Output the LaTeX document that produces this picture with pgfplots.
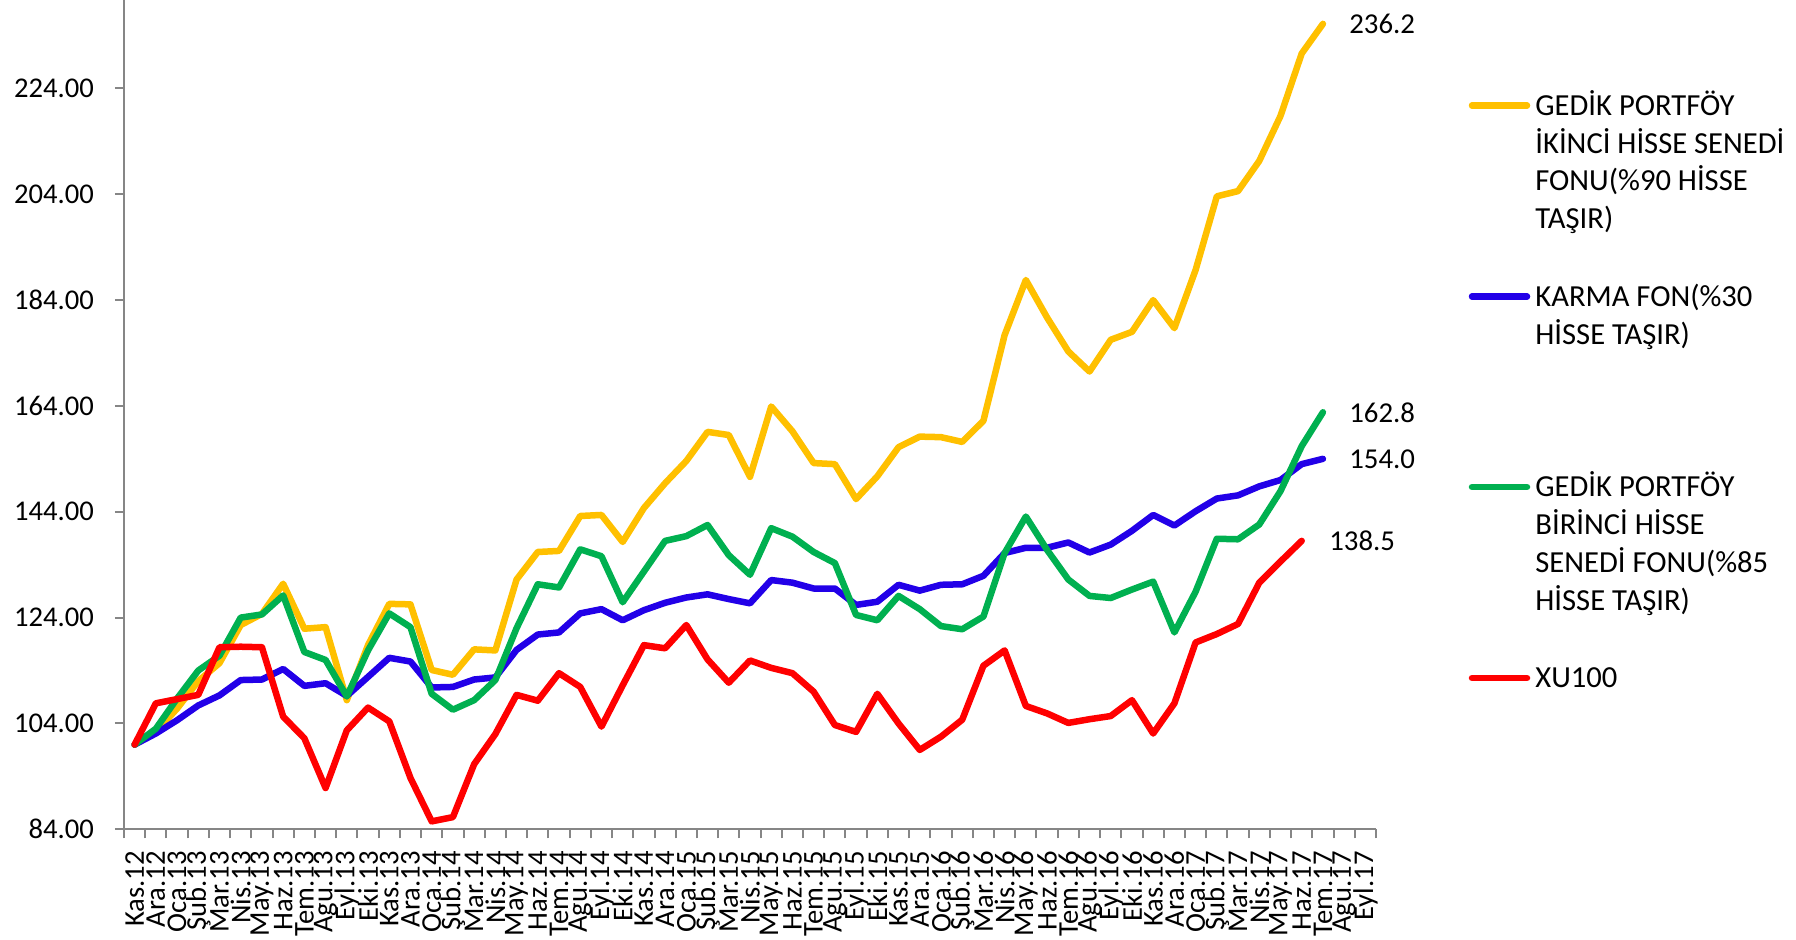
\documentclass[border=0pt]{standalone}
\usepackage{fontspec}
\setmainfont{Carlito}
\usepackage{pgfplots}
\pgfplotsset{compat=1.18}
\usepackage{pgfplotstable}
\definecolor{cY}{RGB}{255,192,0}
\definecolor{cB}{RGB}{34,0,232}
\definecolor{cG}{RGB}{0,176,80}
\definecolor{cR}{RGB}{255,0,0}
\definecolor{axgray}{RGB}{134,134,134}
\pgfplotstableread{
i Y B G R
0 100 100 100 100
1 102.4 102.1 103 107.8
2 106.8 104.6 108.7 108.6
3 112 107.4 114 109.4
4 115.4 109.3 116.8 118.4
5 122.6 112.2 124 118.5
6 124.7 112.3 124.6 118.4
7 130.4 114.3 128.2 105.3
8 121.9 111.1 117.5 101.2
9 122.2 111.6 116 91.8
10 108.4 109.2 109.1 102.7
11 118.8 112.8 117.8 107
12 126.6 116.4 124.8 104.4
13 126.5 115.7 122.2 93.7
14 114.1 110.8 109.6 85.5
15 113.2 110.9 106.6 86.3
16 118 112.3 108.4 96.3
17 117.8 112.7 112.2 102
18 131.2 117.9 122 109.4
19 136.4 120.8 130.3 108.3
20 136.6 121.2 129.7 113.5
21 143.2 124.8 136.9 110.9
22 143.4 125.6 135.6 103.4
23 138.3 123.5 126.9 111.2
24 144.7 125.4 132.7 118.8
25 149.4 126.8 138.5 118.2
26 153.6 127.8 139.4 122.6
27 159.1 128.4 141.5 116.1
28 158.5 127.5 135.8 111.7
29 150.6 126.7 132.1 115.9
30 163.9 131.1 140.9 114.5
31 159.2 130.6 139.3 113.5
32 153.2 129.5 136.4 110
33 153 129.5 134.3 103.7
34 146.4 126.4 124.5 102.4
35 150.7 127 123.5 109.6
36 156.2 130.2 128.1 104
37 158.2 129.1 125.6 99
38 158.1 130.2 122.4 101.5
39 157.2 130.3 121.8 104.7
40 161.2 131.9 124.2 114.9
41 177.4 136.2 136.2 117.8
42 187.8 137.2 143.1 107.3
43 180.7 137.2 136.8 105.9
44 174.3 138.2 131.2 104.1
45 170.5 136.3 128.1 104.8
46 176.5 137.8 127.7 105.4
47 178 140.4 129.3 108.4
48 184 143.4 130.8 102.1
49 178.7 141.4 121.2 107.8
50 189.7 144.1 128.9 119.3
51 203.6 146.5 138.9 120.9
52 204.6 147.1 138.8 122.8
53 210.3 148.8 141.6 130.6
54 218.8 150 147.9 134.6
55 230.6 153 156.4 138.5
56 236.2 154 162.8 nan
}\data
\begin{document}
\begin{tikzpicture}
\useasboundingbox (-62pt,-55.35pt) rectangle (836pt,414.65pt);
\begin{axis}[
  at={(0,0)}, anchor=south west, scale only axis,
  width=626pt, height=414.65pt,
  xmin=-0.5, xmax=58.5, ymin=84, ymax=240.71,
  clip=false,
  axis x line*=bottom, axis y line*=left,
  axis line style={draw=axgray, line width=1pt},
  tick align=outside,
  major tick length=4.5pt,
  tick style={draw=axgray, line width=1pt},
  ytick={84,104,...,224},
  yticklabel style={xshift=-7pt, /pgf/number format/.cd, fixed, fixed zerofill, precision=2},
  /pgf/number format/assume math mode=true,
  tick label style={font=\fontsize{14.3}{17}\selectfont, text=black},
  xtick={-0.5,0.5,...,58.5}, xticklabels={},
  extra x ticks={0,...,58},
  extra x tick labels={Kas.12,Ara.12,Oca.13,Şub.13,Mar.13,Nis.13,May.13,Haz.13,Tem.13,Agu.13,Eyl.13,Eki.13,Kas.13,Ara.13,Oca.14,Şub.14,Mar.14,Nis.14,May.14,Haz.14,Tem.14,Agu.14,Eyl.14,Eki.14,Kas.14,Ara.14,Oca.15,Şub.15,Mar.15,Nis.15,May.15,Haz.15,Tem.15,Agu.15,Eyl.15,Eki.15,Kas.15,Ara.15,Oca.16,Şub.16,Mar.16,Nis.16,May.16,Haz.16,Tem.16,Agu.16,Eyl.16,Eki.16,Kas.16,Ara.16,Oca.17,Şub.17,Mar.17,Nis.17,May.17,Haz.17,Tem.17,Agu.17,Eyl.17},
  extra x tick style={major tick length=0pt, xticklabel style={yshift=-7.5pt, rotate=90, anchor=east}},
  every axis plot/.append style={line width=3.25pt, line join=round, line cap=round, mark=none},
]
\addplot[cY] table[x=i,y=Y]{\data};
\addplot[cB] table[x=i,y=B]{\data};
\addplot[cG] table[x=i,y=G]{\data};
\addplot[cR] table[x=i,y=R]{\data};
\node[anchor=west, inner sep=0pt, xshift=13pt, font=\fontsize{14.4}{17}\selectfont] at (axis cs:56,236.2) {236.2};
\node[anchor=west, inner sep=0pt, xshift=13pt, font=\fontsize{14.4}{17}\selectfont] at (axis cs:56,162.8) {162.8};
\node[anchor=west, inner sep=0pt, xshift=13pt, font=\fontsize{14.4}{17}\selectfont] at (axis cs:56,154.0) {154.0};
\node[anchor=west, inner sep=0pt, xshift=13.6pt, font=\fontsize{14.4}{17}\selectfont] at (axis cs:55,138.5) {138.5};
\end{axis}
\begin{scope}[every node/.style={anchor=base west, inner sep=0pt, font=\fontsize{15.3}{18}\selectfont}]
\draw[cY, line width=3.25pt, line cap=round] (674pt,361.9pt) -- (701.5pt,361.9pt);
\node at (705.5pt,357pt) {GEDİK PORTFÖY};
\node at (705.5pt,338.1pt) {İKİNCİ HİSSE SENEDİ};
\node at (705.5pt,319.2pt) {FONU(\%90 HİSSE};
\node at (705.5pt,300.3pt) {TAŞIR)};
\draw[cB, line width=3.25pt, line cap=round] (674pt,266.4pt) -- (701.5pt,266.4pt);
\node at (705.5pt,261.5pt) {KARMA FON(\%30};
\node at (705.5pt,242.6pt) {HİSSE TAŞIR)};
\draw[cG, line width=3.25pt, line cap=round] (674pt,171.15pt) -- (701.5pt,171.15pt);
\node at (705.5pt,166.25pt) {GEDİK PORTFÖY};
\node at (705.5pt,147.35pt) {BİRİNCİ HİSSE};
\node at (705.5pt,128.45pt) {SENEDİ FONU(\%85};
\node at (705.5pt,109.55pt) {HİSSE TAŞIR)};
\draw[cR, line width=3.25pt, line cap=round] (674pt,75.65pt) -- (701.5pt,75.65pt);
\node at (705.5pt,70.75pt) {XU100};
\end{scope}
\end{tikzpicture}
\end{document}
